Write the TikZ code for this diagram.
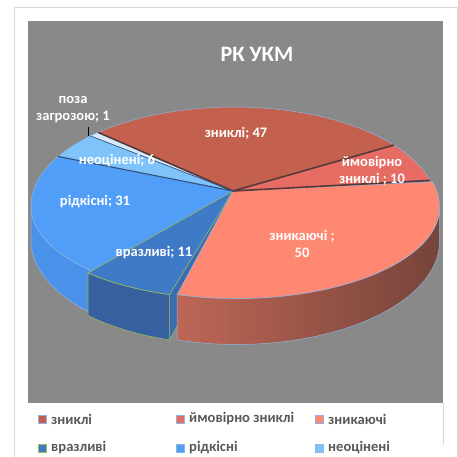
\documentclass[tikz,border=0pt]{standalone}
\usepackage{fontspec}
\setmainfont{Carlito}
\definecolor{frame}{HTML}{D9D9D9}
\definecolor{plotbg}{HTML}{898989}
\definecolor{czn}{HTML}{C4604E}
\definecolor{cym}{HTML}{E66C64}
\definecolor{czk}{HTML}{FF8873}
\definecolor{cvr}{HTML}{3E7AC6}
\definecolor{cvrs}{HTML}{36609F}
\definecolor{cvrc}{HTML}{3A6CB2}
\definecolor{crd}{HTML}{519EF8}
\definecolor{crds}{HTML}{4A91EA}
\definecolor{cnc}{HTML}{7EC3FA}
\definecolor{cpz}{HTML}{D5EBFB}
\definecolor{zkl}{RGB}{190,102,86}
\definecolor{zkr}{RGB}{118,68,58}
\definecolor{edge}{HTML}{563838}
\definecolor{edgeb}{HTML}{33507A}
\definecolor{rimc}{HTML}{8DB4E2}
\definecolor{grn}{HTML}{9BBB59}
\definecolor{legtext}{HTML}{595959}
\begin{document}
\begin{tikzpicture}[x=1pt,y=1pt,
  declare function={ex(\t)=234+203*cos(\t); ey(\t)=-206+((sin(\t)>0)?99:91)*sin(\t); by(\t)=-240+103*sin(\t);},
  lbl/.style={text=white, font=\bfseries\fontsize{14.5}{17}\selectfont, align=center, inner sep=0pt},
  leg/.style={text=legtext, font=\bfseries\fontsize{14.6}{16}\selectfont, anchor=west, inner sep=0pt},
  mk/.style={minimum size=8pt, inner sep=0pt, draw=rimc, line width=0.8pt},
  rim/.style={draw=rimc, line width=0.5pt},
  gedge/.style={draw=grn, line width=0.6pt},
  rad/.style={draw=edge, line width=1.6pt},
  radb/.style={draw=edgeb, line width=1.1pt}
]
\useasboundingbox (0,0) rectangle (458,-457);
\fill[white] (0,0) rectangle (458,-457);
\draw[frame, fill=white] (14,-7) rectangle (457.5,-457.5);
\fill[plotbg] (28,-21) rectangle (443,-403);
\draw[frame] (443,-403) -- (443,-445);

% apex
\coordinate (A) at (233,-191);

% --- side faces (back to front) ---
% ridkisni side
\fill[crds, rim] plot[domain=-134:-180,samples=40] ({ex(\x)},{ey(\x)}) -- plot[domain=-180:-134,samples=40] ({ex(\x)},{by(\x)}) -- cycle;

% vrazlyvi side + cut face (shifted)
\begin{scope}[shift={(-5,-1.5)}]
  \fill[cvrc, gedge] ({ex(-107)},{ey(-107)}) -- ({ex(-107)},{by(-107)}) -- (233,-229) -- (233,-191) -- cycle;
  \fill[cvrs, gedge] plot[domain=-107:-134,samples=30] ({ex(\x)},{ey(\x)}) -- plot[domain=-134:-107,samples=30] ({ex(\x)},{by(\x)}) -- cycle;
\end{scope}

% --- top faces ---
\fill[czn, rim] (A) -- plot[domain=132:38,samples=60] ({ex(\x)},{ey(\x)}) -- cycle;
\fill[cym, rim] (A) -- plot[domain=38:15,samples=30] ({ex(\x)},{ey(\x)}) -- cycle;
\fill[cpz, rim] (A) -- plot[domain=135:132,samples=8] ({ex(\x)},{ey(\x)}) -- cycle;
\fill[cnc, rim] (A) -- plot[domain=150:135,samples=20] ({ex(\x)},{ey(\x)}) -- cycle;
\fill[crd, rim] (A) -- plot[domain=150:226,samples=60] ({ex(\x)},{ey(\x)}) -- cycle;
\begin{scope}[shift={(-5,-1.5)}]
  \fill[cvr, gedge] (A) -- plot[domain=-107:-134,samples=30] ({ex(\x)},{ey(\x)}) -- cycle;
\end{scope}

% --- znykaiuchi (front, slightly exploded) ---
\begin{scope}[shift={(2.5,-1.5)}]
  \shade[left color=zkl, right color=zkr] plot[domain=0:-107,samples=60] ({ex(\x)},{ey(\x)}) -- plot[domain=-107:0,samples=60] ({ex(\x)},{by(\x)}) -- cycle;
  \draw[rim] plot[domain=0:-107,samples=60] ({ex(\x)},{ey(\x)}) -- plot[domain=-107:0,samples=60] ({ex(\x)},{by(\x)}) -- cycle;
  \fill[czk, rim] (A) -- plot[domain=15:-107,samples=80] ({ex(\x)},{ey(\x)}) -- cycle;
\end{scope}

% --- slice boundaries ---
\draw[rad] (A) -- ({ex(38)},{ey(38)});
\draw[rad] (A) -- ({ex(15)},{ey(15)});
\draw[rad] (A) -- ({ex(132)},{ey(132)});
\draw[radb] (A) -- ({ex(150)},{ey(150)});
\draw[draw=edgeb, line width=0.6pt] (A) -- ({ex(135)},{ey(135)});

% --- labels ---
\node[text=white, font=\bfseries\fontsize{22}{26}\selectfont] (title) at (257,-54) {РК УКМ};
\node[lbl] (lzn) at (236,-133) {зниклі; 47};
\node[lbl] (lym) at (372,-170.5) {ймовірно\\зниклі ; 10};
\node[lbl] (lzk) at (302,-243.5) {зникаючі ;\\50};
\node[lbl] (lvr) at (154,-253) {вразливі; 11};
\node[lbl] (lrd) at (95,-202) {рідкісні; 31};
\node[lbl] (lnc) at (117,-161) {неоцінені; 6};
\node[lbl] (lpz) at (73,-109.5) {поза\\загрозою; 1};
\coordinate (pzt) at (88,-127);
\coordinate (pzb) at (88,-136);
\draw[black, line width=0.8pt] (pzt) -- (pzb);

% --- legend ---
\node[mk, fill=czn] (m1) at (42,-419) {};
\node[leg] (t1) at (51,-419) {зниклі};
\node[mk, fill=cym] (m2) at (180,-419) {};
\node[leg] (t2) at (189,-419) {ймовірно зниклі};
\node[mk, fill=czk] (m3) at (319,-419) {};
\node[leg] (t3) at (328,-419) {зникаючі};
\node[mk, fill=cvr, draw=grn] (m4) at (42,-448) {};
\node[leg] (t4) at (51,-448) {вразливі};
\node[mk, fill=crd] (m5) at (180,-448) {};
\node[leg] (t5) at (189,-448) {рідкісні};
\node[mk, fill=cnc] (m6) at (319,-448) {};
\node[leg] (t6) at (328,-448) {неоцінені};
\end{tikzpicture}
\end{document}
